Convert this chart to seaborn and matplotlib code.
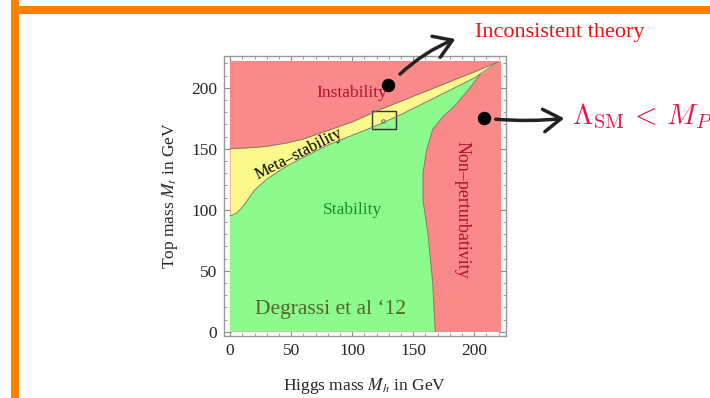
import numpy as np
import matplotlib
matplotlib.use("Agg")
import matplotlib.pyplot as plt
from matplotlib.patches import Rectangle, FancyArrowPatch
import seaborn as sns

# boundaries of the SM phase diagram (Higgs mass vs top mass, GeV)
curve_x = [0, 5, 10, 15, 20, 30, 45, 60, 80, 100, 120, 140, 160, 180, 200, 219]
instab_y = [150, 150.2, 150.5, 150.8, 151, 152, 154.5, 158, 165, 172, 181, 189, 197, 205, 213, 221]
meta_y = [95, 97, 102, 109, 116, 125, 135, 143, 153, 161, 169, 178, 188, 198, 208, 221]

# stability / non-perturbativity boundary (bottom to top)
pert_x = [168, 166, 162, 158, 158, 161, 166, 175, 183, 195, 205]
pert_y = [0, 40, 81, 108, 130, 149, 166, 177, 184, 198, 211]

dots_x = [129, 208]
dots_y = [202, 175]
measured = (125, 173)

x_ticks = [0, 50, 100, 150, 200]
y_ticks = [0, 50, 100, 150, 200]

c_red = "#fa8a8a"
c_green = "#8cfa8c"
c_yellow = "#fafa8c"
c_edge = "#8a7a6a"

sns.set_style("ticks")
plt.rcParams["font.family"] = ["Liberation Serif", "DejaVu Serif"]
plt.rcParams["mathtext.fontset"] = "stix"

fig = plt.figure(figsize=(7.1, 3.98), dpi=100)
ax = fig.add_axes([224 / 710, 1 - 336 / 398, 282 / 710, 280 / 398])

# regions
ax.fill_between([0, 222], 0, 222, color=c_red, lw=0)
ax.fill_between(curve_x, meta_y, instab_y, color=c_yellow, lw=0)
green_x = [0] + curve_x[:-1] + pert_x[::-1]
green_y = [0] + meta_y[:-1] + pert_y[::-1]
ax.fill(green_x, green_y, color=c_green, lw=0)

sns.lineplot(x=curve_x, y=instab_y, ax=ax, color=c_edge, lw=0.7, sort=False, estimator=None)
sns.lineplot(x=curve_x, y=meta_y, ax=ax, color=c_edge, lw=0.7, sort=False, estimator=None)
sns.lineplot(x=pert_x, y=pert_y, ax=ax, color=c_edge, lw=0.7, sort=False, estimator=None)

# measured point box
ax.add_patch(Rectangle((116, 166), 20, 15, fill=False, ec="#333333", lw=1.0))
ax.plot(*measured, marker="o", ms=2.5, mfc="none", mec="#777755", mew=0.8)

sns.scatterplot(x=dots_x, y=dots_y, ax=ax, color="black", s=80, edgecolor="black", zorder=5)

# region labels
ax.text(100, 196, "Instability", color="#b01030", fontsize=12.5, ha="center", va="center")
ax.text(56, 146, "Meta\u2013stability", color="black", fontsize=12, ha="center",
        va="center", rotation=27)
ax.text(100, 100, "Stability", color="#10901a", fontsize=12.5, ha="center", va="center")
ax.text(190, 100, "Non\u2013perturbativity", color="#b01030", fontsize=13, ha="center",
        va="center", rotation=-90)
ax.text(82, 18, "Degrassi et al \u201812", color="#55662a", fontsize=15.5, ha="center",
        va="center")

ax.set_xlim(-5, 226)
ax.set_ylim(-3.5, 226)
ax.set_xticks(x_ticks)
ax.set_yticks(y_ticks)
ax.set_xticks(np.arange(0, 221, 10), minor=True)
ax.set_yticks(np.arange(0, 221, 10), minor=True)
ax.tick_params(which="both", direction="in", top=True, right=True, color="#888888",
               labelsize=12.5, pad=5)
ax.tick_params(which="major", length=5, width=0.8)
ax.tick_params(which="minor", length=2.5, width=0.6)
for s in ax.spines.values():
    s.set_color("#999999")
    s.set_linewidth(1.0)
ax.set_xlabel("Higgs mass $M_h$ in GeV", fontsize=12.5, labelpad=12)
ax.set_ylabel("Top mass $M_t$ in GeV", fontsize=12.5, labelpad=8)

# slide decoration
fig.patches.append(Rectangle((11 / 710, 0), 8 / 710, 1, transform=fig.transFigure,
                             color="#ff7f00", lw=0))
fig.patches.append(Rectangle((11 / 710, 1 - 14 / 398), 1, 8 / 398, transform=fig.transFigure,
                             color="#ff7f00", lw=0))

# arrows and annotations
arrow_kw = dict(arrowstyle="->,head_length=0.7,head_width=0.45", lw=2.5, color="#222222",
                mutation_scale=18)
fig.add_artist(FancyArrowPatch(
    (398 / 710, 1 - 76 / 398), (458 / 710, 1 - 38 / 398), transform=fig.transFigure,
    connectionstyle="arc3,rad=-0.1", **arrow_kw))
fig.add_artist(FancyArrowPatch(
    (493 / 710, 1 - 119 / 398), (567 / 710, 1 - 118 / 398), transform=fig.transFigure,
    connectionstyle="arc3,rad=0.05", **arrow_kw))

fig.text(475 / 710, 1 - 33 / 398, "Inconsistent theory", color="#ee1111", fontsize=16,
         va="center", ha="left")
# cut off by the slide edge, as in the original screenshot
fig.text(572 / 710, 1 - 116 / 398, r"$\Lambda_{\rm SM} \,<\, M_P$", color="#e8174a",
         fontsize=21, va="center", ha="left", math_fontfamily="cm")

fig.savefig("out.png", dpi=100)
